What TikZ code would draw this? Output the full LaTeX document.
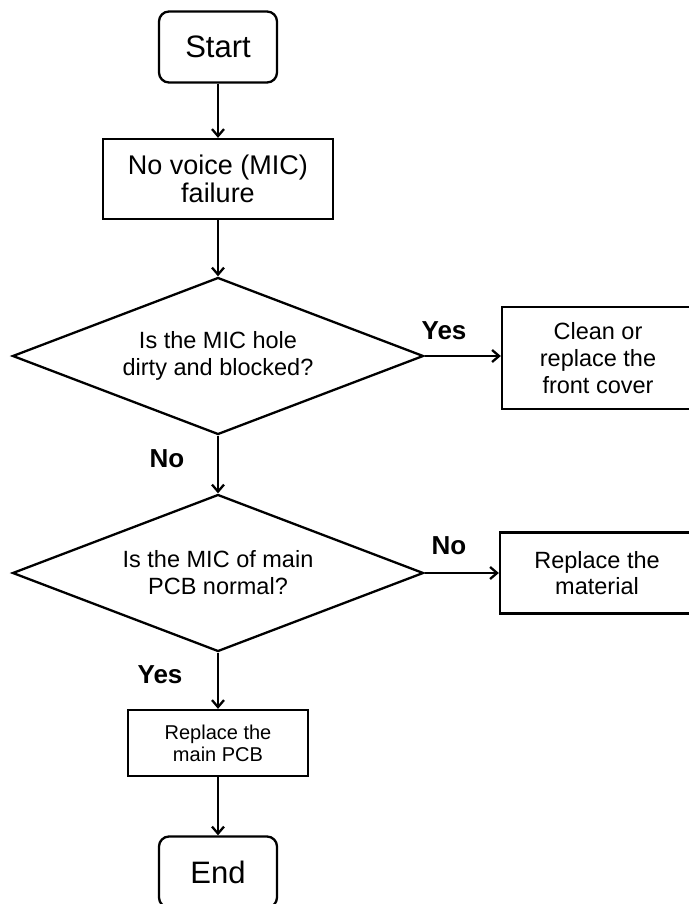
\documentclass[tikz,border=0pt]{standalone}
\usepackage{fontspec}
\setmainfont{Liberation Sans}
\usetikzlibrary{shapes.geometric,arrows.meta}

\begin{document}
\begin{tikzpicture}[x=1pt,y=-1pt,
  terminal/.style={draw,line width=2.3pt,rounded corners=10pt,minimum width=118pt,minimum height=71pt,font=\fontsize{31}{34}\selectfont},
  process/.style={draw,line width=2.3pt,align=center,inner sep=0pt},
  decision/.style={draw,diamond,aspect=2.62,line width=2.3pt,minimum width=411pt,minimum height=157pt,inner sep=0pt,align=center,font=\fontsize{23.5}{27}\selectfont},
  flow/.style={line width=2.3pt,-{Straight Barb[length=7pt,width=12pt]}},
  answer/.style={anchor=base,font=\fontsize{26}{30}\selectfont\bfseries}]
\useasboundingbox (0,0) rectangle (688,904);
% main column
\node[terminal] (start) at (218,47) {Start};
\node[process,minimum width=230pt,minimum height=80pt,font=\fontsize{27}{28}\selectfont] (fail) at (218,179) {No voice (MIC)\\failure};
\node[decision] (hole) at (218,356) {Is the MIC hole\\dirty and blocked?};
\node[decision] (mic) at (218,573) {Is the MIC of main\\PCB normal?};
\node[process,minimum width=180pt,minimum height=66pt,font=\fontsize{20}{22}\selectfont] (pcb) at (218,743) {Replace the\\main PCB};
\node[terminal] (end) at (218,872) {End};
% right column
\node[process,minimum width=192pt,minimum height=102pt,font=\fontsize{23.5}{27}\selectfont] (cover) at (598,358) {Clean or\\replace the\\front cover};
\node[process,minimum width=194pt,minimum height=81pt,font=\fontsize{23.5}{26}\selectfont] (material) at (597,573) {Replace the\\material};
% connectors
\draw[flow] (start) -- (fail);
\draw[flow] (fail) -- (hole);
\draw[flow] (hole) -- (mic);
\draw[flow] (mic) -- (pcb);
\draw[flow] (pcb) -- (end);
\draw[flow] (hole.east) -- (hole.east -| cover.west);
\draw[flow] (mic.east) -- (mic.east -| material.west);
% answers
\node[answer] (holeyes) at (444,339) {Yes};
\node[answer] (holeno) at (167,467) {No};
\node[answer] (micno) at (449,554) {No};
\node[answer] (micyes) at (160,683) {Yes};
\end{tikzpicture}
\end{document}
